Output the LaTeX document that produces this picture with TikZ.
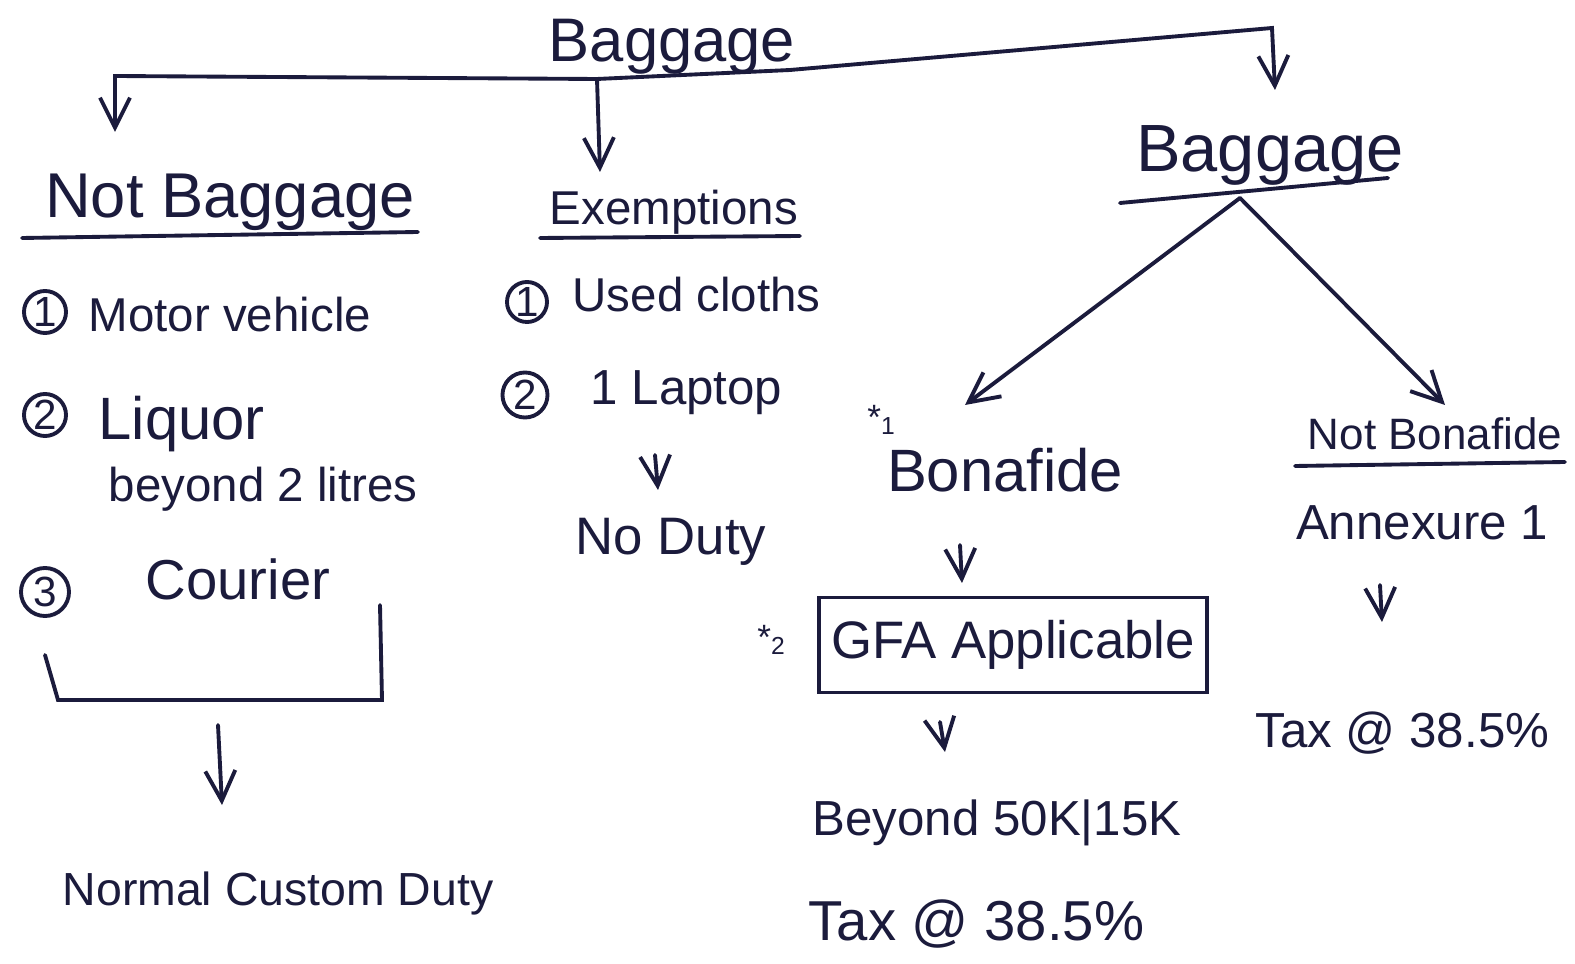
\documentclass[tikz,border=0pt]{standalone}
\usepackage{fontspec}
\setmainfont{Liberation Sans}
\usetikzlibrary{arrows.meta,positioning,calc}
\definecolor{ink}{HTML}{1B1B3C}
\newcommand{\fsz}[1]{\fontsize{#1}{#1}\selectfont}

\begin{document}
\begin{tikzpicture}[
  x=0.01cm, y=-0.01cm,
  color=ink,
  title/.style={font=\fsz{18}, inner sep=0pt, anchor=base},
  head/.style={font=\fsz{14}, inner sep=0pt, anchor=base},
  item/.style={font=\fsz{14}, inner sep=0pt, anchor=base west},
  num/.style={circle, draw, inner sep=0pt, minimum size=4.2mm, font=\fsz{12}, line width=1.1pt},
  star/.style={font=\fsz{10}, inner sep=0pt},
  gfabox/.style={draw, line width=1.1pt, minimum width=3.87cm, minimum height=0.95cm, font=\fsz{15}},
  arrow/.style={-{Straight Barb[length=3mm,width=3mm]}, line width=1.1pt, line cap=round},
  stroke/.style={line width=1.1pt, line cap=round}
]
\fill[white] (0,0) rectangle (1575,964);
\useasboundingbox (0,0) rectangle (1575,964);

% Top heading
\node[title, font=\fsz{17.5}] (root) at (672,62) {Baggage};

% Three branches
\node[title] (notbag) at (230,218) {Not Baggage};
\node[head, font=\fsz{13.5}] (exempt) at (674,225) {Exemptions};
\node[title, font=\fsz{19}] (bag) at (1270,172) {Baggage};

% Underlines
\draw[stroke] (22,238) -- (418,232);
\draw[stroke] (540,238) -- (800,236);
\coordinate (bagulA) at (1120,203);
\coordinate (bagulB) at (1388,178);
\draw[stroke] (bagulA) -- (bagulB);

% Split from the top heading
\coordinate (jl) at (115,76);
\coordinate (jm) at (597,79);
\coordinate (rootend) at (790,70);
\coordinate (jr) at (1272,28);
\coordinate (notbagtip) at (115,132);
\coordinate (exempttip) at (600,172);
\coordinate (bagtip) at (1275,90);
\draw[arrow] (jm) -- (jl) -- (notbagtip);
\draw[arrow] (jm) -- (exempttip);
\draw[arrow] (jm) -- (rootend) -- (jr) -- (bagtip);

% Not Baggage list
\node[num] (n1) at (45,312) {1};
\node[item, font=\fsz{13.5}] (motor) at (88,332) {Motor vehicle};
\node[num] (n2) at (45,415) {2};
\node[item, font=\fsz{17}] (liquor) at (98,440) {Liquor};
\node[item, font=\fsz{13.5}] (beyond2) at (108,502) {beyond 2 litres};
\node[num, minimum size=4.8mm] (n3) at (45,592) {3};
\node[item, font=\fsz{16}] (courier) at (145,600) {Courier};

% Bracket round the list
\coordinate (brA) at (380,605);
\coordinate (brB) at (382,700);
\coordinate (brC) at (58,700);
\coordinate (brD) at (45,655);
\draw[stroke] (brA) -- (brB) -- (brC) -- (brD);
\coordinate (ncdA) at (218,725);
\coordinate (ncdB) at (222,805);
\draw[arrow] (ncdA) -- (ncdB);
\node[item, font=\fsz{13.2}] (ncd) at (62,905) {Normal Custom Duty};

% Exemptions list
\node[num, minimum size=4mm] (e1) at (527,302) {1};
\node[item, font=\fsz{13.5}] (cloths) at (572,312) {Used cloths};
\node[num, minimum size=4.5mm] (e2) at (525,395) {2};
\node[item] (laptop) at (590,405) {1 Laptop};
\coordinate (ndA) at (655,455);
\coordinate (ndB) at (658,490);
\draw[arrow] (ndA) -- (ndB);
\node[item, font=\fsz{15}] (noduty) at (575,555) {No Duty};

% Baggage split
\coordinate (apex) at (1240,198);
\coordinate (bonatip) at (965,405);
\coordinate (nbonatip) at (1445,405);
\draw[arrow] (apex) -- (bonatip);
\draw[arrow] (apex) -- (nbonatip);

% Bonafide side
\node[star] (star1) at (882,420) {*\textsubscript{1}};
\node[title, font=\fsz{17}] (bona) at (1005,492) {Bonafide};
\coordinate (gfaA) at (960,545);
\coordinate (gfaB) at (962,583);
\draw[arrow] (gfaA) -- (gfaB);
\node[star] (star2) at (772,640) {*\textsubscript{2}};
\node[gfabox] (gfa) at (1013,645) {GFA Applicable};
\coordinate (bynA) at (940,722);
\coordinate (bynB) at (945,752);
\draw[arrow] (bynA) -- (bynB);
\node[item] (beyond) at (812,835) {Beyond 50K|15K};
\node[item, font=\fsz{16}] (taxa) at (808,940) {Tax @ 38.5\%};

% Not Bonafide side
\node[head, font=\fsz{12.5}] (nbona) at (1435,450) {Not Bonafide};
\draw[stroke] (1295,466) -- (1565,462);
\node[head] (annex) at (1422,540) {Annexure 1};
\coordinate (taxbA) at (1380,585);
\coordinate (taxbB) at (1382,622);
\draw[arrow] (taxbA) -- (taxbB);
\node[item] (taxb) at (1255,748) {Tax @ 38.5\%};

\end{tikzpicture}
\end{document}
